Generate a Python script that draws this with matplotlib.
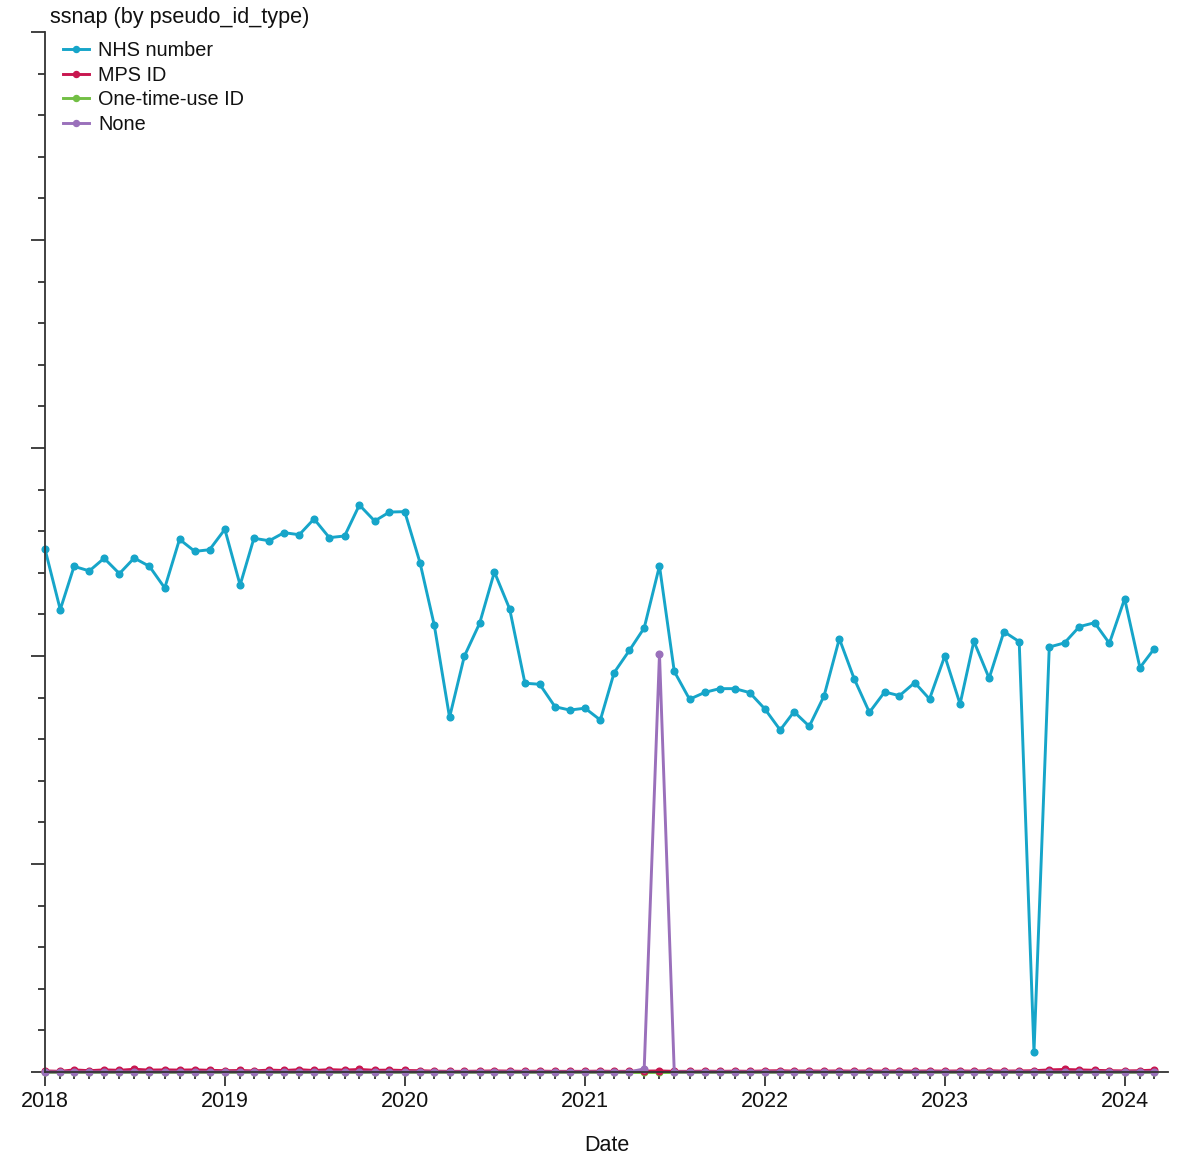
import numpy as np
import pandas as pd
import matplotlib
matplotlib.use("Agg")
import matplotlib.pyplot as plt
import matplotlib.dates as mdates
import matplotlib.ticker as ticker

plt.rcParams['font.family'] = ['Liberation Sans', 'DejaVu Sans']

# monthly record counts, Jan 2018 - Mar 2024
months = pd.date_range("2018-01-01", "2024-03-01", freq="MS")

nhs_number = [
    251.4, 222.3, 243.1, 240.9, 247.0, 239.6, 247.1, 243.1, 232.7, 256.1, 250.3, 251.1,
    260.9, 234.1, 256.6, 255.4, 259.3, 258.3, 265.9, 256.9, 257.7, 272.6, 264.9, 269.2,
    269.4, 244.9, 214.8, 170.5, 199.9, 215.7, 240.4, 222.6, 186.9, 186.4, 175.6, 174.0,
    174.9, 169.2, 192.0, 202.7, 213.5, 243.3, 192.6, 179.2, 182.5, 184.3, 184.3, 182.4,
    174.5, 164.4, 173.2, 166.2, 180.8, 208.3, 189.1, 172.9, 182.7, 180.9, 187.2, 179.3,
    200.0, 176.9, 207.1, 189.3, 211.7, 206.9, 9.6, 204.3, 206.3, 214.1, 216.0, 206.1,
    227.5, 194.4, 203.5,
]
mps_id = [
    0.5, 0.3, 1.0, 0.6, 1.0, 0.8, 1.3, 0.9, 1.0, 0.9, 1.0, 0.8,
    0.6, 0.7, 0.5, 0.9, 0.7, 1.1, 0.7, 1.1, 0.9, 1.2, 0.8, 0.9,
    0.7, 0.6, 0.4, 0.3, 0.3, 0.4, 0.5, 0.4, 0.3, 0.4, 0.3, 0.3,
    0.3, 0.4, 0.3, 0.3, 0.4, 0.5, 0.3, 0.3, 0.4, 0.3, 0.4, 0.3,
    0.5, 0.6, 0.4, 0.5, 0.4, 0.5, 0.4, 0.5, 0.4, 0.5, 0.4, 0.5,
    0.4, 0.5, 0.4, 0.6, 0.4, 0.5, 0.6, 1.0, 1.2, 1.0, 0.8, 0.6,
    0.5, 0.6, 0.9,
]
one_time_use_id = [0.0] * len(months)
no_id = [0.0] * len(months)
no_id[40] = 1.5
no_id[41] = 201.0

series = [
    ("NHS number", nhs_number, "#16a5c9", 2.0),
    ("MPS ID", mps_id, "#c8164f", 2.0),
    ("One-time-use ID", one_time_use_id, "#72bf44", 1.8),
    ("None", no_id, "#9a70bb", 2.0),
]

fig = plt.figure(figsize=(11.84, 11.61), dpi=100, facecolor="white")
ax = fig.add_axes([0.038, 0.0767, 0.9485, 0.8957])

for name, vals, col, z in series:
    ax.plot(months, vals, color=col, lw=2.1, marker="o", ms=4.8,
            label=name, solid_joinstyle="round", clip_on=False, zorder=z)

ax.set_xlim(pd.Timestamp("2018-01-01"), pd.Timestamp("2024-03-29"))
ax.set_ylim(0, 500)

for side in ("top", "right"):
    ax.spines[side].set_visible(False)
for side in ("left", "bottom"):
    ax.spines[side].set_color("#333333")
    ax.spines[side].set_linewidth(1.3)

ax.xaxis.set_major_locator(mdates.YearLocator())
ax.xaxis.set_minor_locator(mdates.MonthLocator())
ax.xaxis.set_major_formatter(mdates.DateFormatter("%Y"))
ax.yaxis.set_major_locator(ticker.MultipleLocator(100))
ax.yaxis.set_minor_locator(ticker.MultipleLocator(20))

ax.tick_params(axis="both", which="major", length=10, width=1.3, color="#333333",
               labelsize=15.5, labelcolor="#111111")
ax.tick_params(axis="both", which="minor", length=5, width=1.3, color="#333333")
ax.tick_params(axis="y", which="both", labelleft=False)
ax.tick_params(axis="x", which="major", pad=4)

ax.set_xlabel("Date", fontsize=15.5, color="#111111", labelpad=16)

leg = ax.legend(loc="upper left", bbox_to_anchor=(0.005, 1.003), frameon=False,
                fontsize=14.3, handlelength=1.35, handletextpad=0.45,
                labelspacing=0.29, markerscale=0.9, borderaxespad=0.2)
for t in leg.get_texts():
    t.set_color("#111111")

fig.text(50 / 1184, 1 - 18 / 1161, "ssnap (by pseudo_id_type)", fontsize=15.6,
         color="#111111", ha="left", va="center")

fig.savefig("out.png", dpi=100, facecolor="white")
